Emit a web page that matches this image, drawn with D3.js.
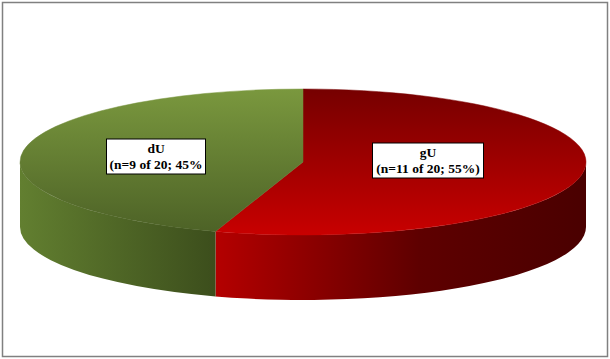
<!DOCTYPE html>
<html>
<head>
<meta charset="utf-8">
<script src="https://cdn.jsdelivr.net/npm/d3@7"></script>
<style>
  body { margin: 0; background: #fff; }
  svg { display: block; }
</style>
</head>
<body>
<svg id="chart" width="610" height="359"></svg>
<script>
// data
const groups = ["gU", "dU"];
const counts = [11, 9];
const total = 20;
const labelLines = [
  ["gU", "(n=11 of 20; 55%)"],
  ["dU", "(n=9 of 20; 45%"]
];

const W = 610, H = 359;
const cx = 303, cy = 162, rx = 283, ry = 73, depth = 65;

const svg = d3.select("#chart");
const defs = svg.append("defs");

// frame
svg.append("rect")
  .attr("x", 2.5).attr("y", 2.5)
  .attr("width", 605).attr("height", 354)
  .attr("fill", "#fff")
  .attr("stroke", "#808080")
  .attr("stroke-width", 1.5);

// gradients, one pair (top, side) per slice
const topStops = [
  [["0%", "#760000"], ["100%", "#c80000"]],
  [["0%", "#7a983e"], ["100%", "#4c6126"]]
];
const sideStops = [
  [["0%", "#b40000"], ["55%", "#5e0000"], ["100%", "#4a0000"]],
  [["0%", "#627f30"], ["100%", "#3c4e1c"]]
];

groups.forEach((g, i) => {
  const tg = defs.append("linearGradient")
    .attr("id", "top" + i)
    .attr("gradientUnits", "userSpaceOnUse")
    .attr("x1", 0).attr("y1", cy - ry).attr("x2", 0).attr("y2", cy + ry);
  topStops[i].forEach(s => tg.append("stop").attr("offset", s[0]).attr("stop-color", s[1]));
});

// projection of a pie angle (clockwise from 12 o'clock) onto the ellipse
const px = a => cx + rx * Math.sin(a);
const py = a => cy - ry * Math.cos(a);

const pie = d3.pie().sort(null).value(d => d)(counts);

// side walls: only the front half (PI/2 .. 3PI/2) is visible
pie.forEach((d, i) => {
  const a0 = Math.max(d.startAngle, Math.PI / 2);
  const a1 = Math.min(d.endAngle, 3 * Math.PI / 2);
  if (a1 <= a0) return;

  const sg = defs.append("linearGradient")
    .attr("id", "side" + i)
    .attr("gradientUnits", "userSpaceOnUse")
    .attr("x1", Math.min(px(a0), px(a1))).attr("y1", 0)
    .attr("x2", Math.max(px(a0), px(a1))).attr("y2", 0);
  sideStops[i].forEach(s => sg.append("stop").attr("offset", s[0]).attr("stop-color", s[1]));

  const big = (a1 - a0) > Math.PI ? 1 : 0;
  const p = `M${px(a0)},${py(a0)}` +
    `A${rx},${ry} 0 ${big} 1 ${px(a1)},${py(a1)}` +
    `L${px(a1)},${py(a1) + depth}` +
    `A${rx},${ry} 0 ${big} 0 ${px(a0)},${py(a0) + depth}Z`;
  svg.append("path")
    .attr("d", p)
    .attr("fill", `url(#side${i})`);
});

// top faces
pie.forEach((d, i) => {
  const a0 = d.startAngle, a1 = d.endAngle;
  const big = (a1 - a0) > Math.PI ? 1 : 0;
  const p = `M${cx},${cy}L${px(a0)},${py(a0)}` +
    `A${rx},${ry} 0 ${big} 1 ${px(a1)},${py(a1)}Z`;
  svg.append("path")
    .attr("d", p)
    .attr("fill", `url(#top${i})`)
    .attr("stroke", `url(#top${i})`)
    .attr("stroke-width", 0.5);
});

// labels
const labelPos = [[428, 160], [156, 156]];
const boxW = [111, 99];
labelLines.forEach((lines, i) => {
  const [lx, ly] = labelPos[i];
  const g = svg.append("g").attr("transform", `translate(${lx},${ly})`);
  g.append("rect")
    .attr("x", -boxW[i] / 2).attr("y", -17)
    .attr("width", boxW[i]).attr("height", 35)
    .attr("fill", "#fff")
    .attr("stroke", "#000")
    .attr("stroke-width", 1);
  g.selectAll("text")
    .data(lines)
    .join("text")
    .attr("x", 0)
    .attr("y", (t, k) => k === 0 ? -3 : 13)
    .attr("text-anchor", "middle")
    .attr("font-family", "'Liberation Serif', 'Times New Roman', serif")
    .attr("font-weight", "bold")
    .attr("font-size", "13.5px")
    .attr("fill", "#000")
    .text(t => t);
});
</script>
</body>
</html>
